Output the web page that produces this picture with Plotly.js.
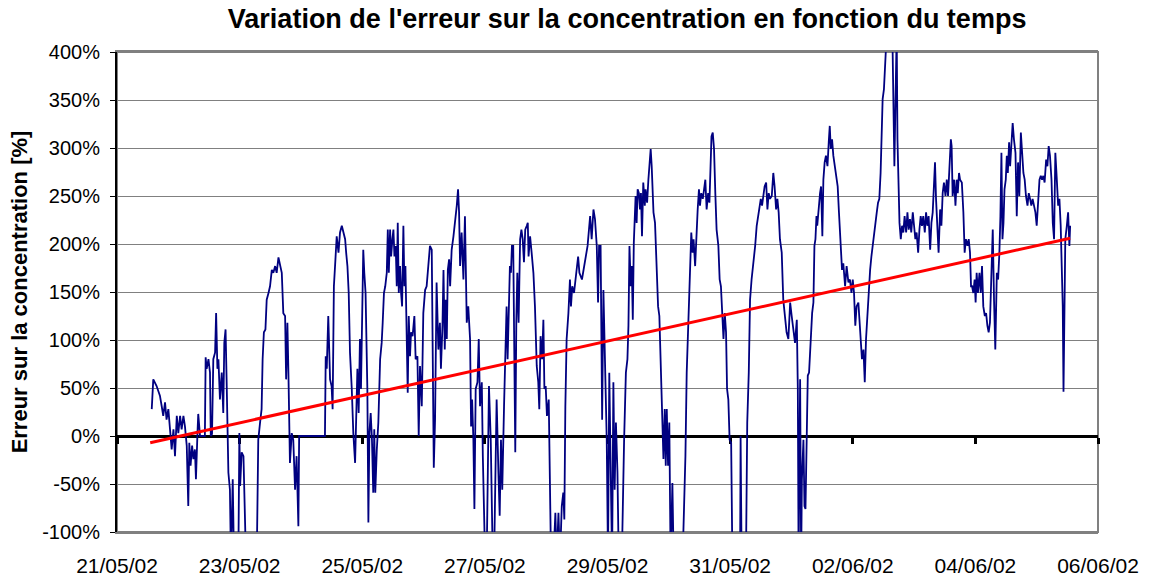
<!DOCTYPE html>
<html>
<head>
<meta charset="utf-8">
<script src="https://cdn.plot.ly/plotly-3.0.1.min.js"></script>
<style>html,body{margin:0;padding:0;background:#fff;}#chart{width:1153px;height:581px;}</style>
</head>
<body>
<div id="chart"></div>
<script>
// Temps écoulé depuis le 21/05/02 00:00 (heures)
const temps_h = [
13.6,14.2,15.5,16.8,17.5,18.1,18.8,19.4,20.1,20.7,
21.4,22.1,22.7,23.4,24.0,24.7,25.3,26.0,26.6,27.3,
27.9,28.3,28.8,29.4,29.9,30.5,30.9,31.5,31.8,32.5,
34.4,34.7,35.1,35.8,36.4,36.7,37.2,37.7,38.4,38.8,
39.3,39.7,40.3,41.0,41.6,42.0,42.5,42.9,43.6,44.2,
44.6,45.3,45.8,47.5,47.9,48.2,48.8,49.5,50.1,50.5,
54.7,55.3,56.0,56.6,57.0,57.5,58.1,58.6,59.3,59.9,
60.6,61.2,61.9,62.5,63.2,63.8,64.5,65.1,65.8,66.2,
66.7,67.1,67.7,68.4,69.0,69.7,70.3,71.0,71.3,81.4,
81.7,82.1,82.7,83.4,84.0,84.4,84.9,85.5,86.0,86.7,
87.3,88.0,88.6,89.3,89.7,90.2,90.7,91.2,91.9,92.5,
93.2,93.6,94.1,94.6,95.1,95.5,95.9,96.4,96.8,97.3,
98.0,98.4,98.8,99.3,99.8,100.3,100.7,101.1,101.7,102.3,
103.0,103.6,104.0,104.5,105.0,105.6,106.0,106.4,106.9,107.3,
107.8,108.2,108.6,109.1,109.5,109.9,110.3,110.8,111.2,111.6,
112.1,112.5,112.9,113.4,113.8,114.2,114.7,115.1,115.7,116.4,
116.9,117.6,118.1,118.6,119.3,119.9,120.6,121.2,121.9,122.5,
123.2,123.6,124.0,124.5,125.1,125.8,126.4,126.8,127.4,127.8,
128.3,128.7,129.1,129.5,130.0,130.4,131.0,131.7,132.3,133.0,
133.5,133.9,134.3,134.9,135.6,136.2,136.9,137.5,138.2,138.6,
139.0,139.5,139.9,140.4,141.1,141.6,142.1,142.8,143.2,143.7,
144.1,144.7,145.1,145.6,146.3,146.7,147.1,147.6,148.1,148.6,
149.3,149.8,150.3,150.8,151.5,152.0,152.5,152.9,153.3,153.8,
154.2,154.6,155.1,155.5,155.9,156.3,156.7,157.2,157.8,158.3,
158.8,159.3,159.8,160.4,160.8,161.1,161.7,162.3,163.0,163.6,
164.3,164.9,165.3,165.8,166.4,166.9,167.3,167.8,168.3,169.0,
169.5,169.9,170.8,171.6,172.1,172.8,173.4,174.1,174.7,175.1,
175.5,176.0,176.7,177.3,177.7,178.2,178.9,179.4,179.9,180.5,
181.0,182.0,184.2,184.6,185.2,185.8,186.5,187.1,187.8,188.3,
188.7,189.3,189.9,190.4,190.8,191.3,191.7,192.2,192.7,193.3,
193.8,194.3,194.8,195.3,195.9,196.4,197.6,198.5,199.2,199.8,
200.2,200.6,201.1,201.5,201.9,202.3,202.6,203.0,203.4,203.8,
204.3,204.7,205.1,205.5,206.0,206.6,206.9,207.5,208.0,208.4,
208.9,209.3,210.0,210.6,211.3,211.8,212.3,212.8,213.3,213.9,
214.4,214.8,215.2,215.7,216.2,216.7,217.4,217.9,221.4,221.9,
222.5,223.0,223.7,224.3,224.8,225.3,225.7,226.3,226.8,227.3,
227.8,228.2,228.7,229.3,229.8,230.3,230.8,231.4,231.9,232.3,
232.7,233.2,233.7,234.2,234.7,235.4,235.9,236.4,236.8,237.4,
237.9,238.4,238.8,239.3,239.8,240.4,240.9,243.9,244.1,244.5,
246.2,246.7,247.3,247.8,248.4,249.1,249.8,250.4,250.9,251.4,
252.0,252.5,253.0,253.5,254.1,254.6,255.1,255.6,256.3,256.9,
257.4,258.0,258.5,259.0,259.5,260.2,260.8,261.5,262.1,262.8,
263.5,264.1,264.8,265.4,266.1,266.5,266.8,267.4,267.8,268.1,
268.7,269.1,269.5,270.0,270.4,270.9,271.3,271.7,272.1,272.6,
273.0,273.4,273.8,274.1,274.7,275.2,275.6,276.1,276.5,277.0,
277.5,278.1,278.6,279.0,279.4,279.9,280.4,281.0,281.5,282.1,
282.6,283.0,283.4,283.8,284.3,285.0,285.6,286.3,286.9,287.5,
288.0,288.5,289.0,289.5,290.2,290.6,291.1,291.6,292.2,292.7,
293.2,293.7,294.3,294.8,295.3,295.8,296.3,296.9,297.4,297.9,
298.4,298.9,299.3,299.7,300.2,300.8,301.3,302.1,303.0,303.5,
303.9,304.3,304.7,305.2,305.5,305.9,306.3,306.8,307.3,307.8,
308.3,308.9,309.4,309.9,310.4,310.9,311.5,312.0,312.5,313.0,
313.6,314.1,314.6,315.1,315.6,316.2,316.7,317.2,317.7,318.3,
318.8,319.3,319.8,320.2,320.6,321.1,321.6,322.2,322.7,323.2,
323.7,324.3,324.8,325.3,325.8,326.4,326.7,327.1,327.7,328.2,
328.7,329.1,329.6,330.0,330.7,331.3,331.8,332.3,332.9,333.4,
333.9,334.3,334.7,335.2,335.7,336.1,336.5,337.0,337.6,338.1,
338.6,339.1,339.7,340.2,340.7,341.2,341.7,342.3,342.8,343.3,
343.8,344.4,344.9,345.4,345.8,346.2,346.6,347.0,347.4,347.9,
348.3,348.7,349.2,349.6,350.1,350.6,351.1,351.7,352.2,352.7,
353.2,353.8,354.3,354.8,355.3,355.8,356.4,356.9,357.4,357.9,
358.4,359.0,359.5,360.0,360.5,361.1,361.6,362.1,362.6,363.1,
363.7,364.2,364.7,365.2,365.8,366.3,366.8,367.3,367.8,368.4,
368.9,369.4,369.8,370.2,370.5,370.8,371.2,371.8,372.3,372.8,
373.1
];
// Erreur sur la concentration (%)
const erreur_pct = [
28,59,52,42,31,21,35,17,28,10,
-14,7,-21,21,3,21,7,21,10,-10,
-73,-7,-31,-10,-24,-14,-45,3,23,0,
0,82,70,80,66,0,2,80,87,128,
70,80,38,66,24,97,111,59,-38,-56,
-130,-45,-130,-130,3,-52,-17,-21,-76,-130,
-130,-4,14,28,80,108,111,142,149,156,
173,170,177,170,186,177,170,128,125,59,
118,66,-28,3,-4,-56,-21,-94,0,0,
83,70,125,59,52,28,156,184,208,191,
212,219,212,205,191,177,149,87,49,3,
-28,31,70,24,101,49,101,194,170,149,
49,-90,3,24,-4,-59,7,-59,-14,14,
80,97,118,149,156,170,215,170,215,187,
205,215,187,198,156,222,149,177,149,135,
219,156,177,121,45,125,83,108,104,125,
80,83,0,73,31,128,152,156,177,198,
194,101,-33,17,160,90,118,70,115,173,
90,142,101,173,184,156,194,208,222,240,
257,233,177,212,163,229,118,135,101,10,
38,-4,-76,49,56,101,31,56,-21,-66,
-130,-130,-21,52,-4,-52,-130,-130,-38,38,
-38,-83,-4,-56,31,80,135,80,135,177,
170,198,198,118,-17,118,170,118,205,215,
205,181,215,219,222,187,208,191,170,135,
73,56,28,104,80,121,49,52,21,38,
-28,-130,-130,-80,-130,-80,-130,-73,-59,-87,
31,101,128,163,135,156,149,163,170,187,
170,163,198,215,229,205,236,226,198,139,
198,198,17,152,101,49,-4,-130,66,-45,
-130,56,-56,14,-38,-130,-130,-4,66,80,
115,198,156,177,121,201,219,250,222,257,
253,236,253,208,264,240,257,243,267,281,
299,281,233,222,170,135,125,76,31,-24,
28,-31,28,-31,14,-130,-49,-130,-130,-80,
-21,66,118,184,212,191,205,177,212,236,
257,240,253,247,257,267,236,253,243,278,
312,316,299,253,215,198,163,156,135,101,
128,108,49,38,-4,-7,-130,-130,0,-130,
-130,14,66,142,163,180,198,219,229,236,
247,240,253,260,264,236,253,247,250,274,
260,236,247,233,205,191,142,121,108,101,
139,125,111,97,121,49,-130,59,-130,-45,
-4,-73,-76,31,63,66,87,108,128,139,
198,205,229,219,240,253,260,208,267,285,
292,281,306,323,299,309,292,281,274,260,
233,215,191,173,180,156,177,160,163,149,
163,149,115,135,139,121,101,80,90,56,
101,128,149,173,187,198,215,226,233,243,
247,274,326,351,361,385,420,430,430,420,
344,281,344,420,309,260,222,205,219,212,
229,212,233,215,226,212,233,219,205,212,
191,215,229,219,229,212,233,219,229,194,
222,233,260,285,247,222,191,236,219,253,
264,250,267,250,281,309,302,250,267,240,
267,253,274,267,264,233,191,205,198,205,
191,156,156,149,163,139,170,149,170,149,
177,135,125,128,115,108,118,163,215,142,
90,170,163,191,229,295,205,222,257,267,
292,274,306,281,312,326,309,295,229,285,
250,316,295,274,267,250,240,253,247,240,
247,240,233,219,240,267,271,267,271,264,
288,281,302,292,267,222,205,295,271,240,
247,219,177,135,46,135,205,219,233,198,
219
];
// Courbe de tendance linéaire (extrémités)
const tendance_h = [13.0, 373.1];
const tendance_pct = [-7, 206];

// Graduations de l'axe des ordonnées
const y_ticks = [-100, -50, 0, 50, 100, 150, 200, 250, 300, 350, 400];
const y_labels = ['-100%', '-50%', '0%', '50%', '100%', '150%', '200%', '250%', '300%', '350%', '400%'];

const debut = Date.UTC(2002, 4, 21);
const enDate = h => new Date(debut + h * 3600000).toISOString().slice(0, 19).replace('T', ' ');

const xRange = ['2002-05-21', '2002-06-06'];
const deuxJours = 2 * 86400000;
const fontFam = 'Liberation Sans, Arial, sans-serif';

const traces = [
  {
    type: 'scatter', mode: 'lines',
    x: temps_h.map(enDate), y: erreur_pct,
    line: {color: '#000080', width: 1.8},
    xaxis: 'x', yaxis: 'y', hoverinfo: 'skip'
  },
  {
    type: 'scatter', mode: 'lines',
    x: tendance_h.map(enDate), y: tendance_pct,
    line: {color: '#FF0000', width: 3},
    xaxis: 'x2', yaxis: 'y', hoverinfo: 'skip'
  }
];

const layout = {
  width: 1153, height: 581,
  margin: {l: 117, r: 55, t: 52, b: 49},
  paper_bgcolor: '#ffffff', plot_bgcolor: '#ffffff',
  font: {family: fontFam, color: '#000000'},
  showlegend: false,
  title: {
    text: "Variation de l'erreur sur la concentration en fonction du temps",
    font: {family: fontFam, size: 27, weight: 'bold', color: '#000'},
    x: 0.52, xref: 'paper', xanchor: 'center',
    y: 0.968, yref: 'container', yanchor: 'middle'
  },
  xaxis: {
    type: 'date', range: xRange, tick0: '2002-05-21', dtick: deuxJours,
    tickformat: '%d/%m/%y', showgrid: false, zeroline: false,
    showline: true, linecolor: '#808080', linewidth: 2, mirror: true,
    ticks: '', ticklabelstandoff: 14,
    tickfont: {family: fontFam, size: 21, color: '#000'}
  },
  xaxis2: {
    type: 'date', range: xRange, tick0: '2002-05-21', dtick: deuxJours,
    overlaying: 'x', anchor: 'free', position: 0.2, side: 'bottom',
    showticklabels: false, showgrid: false, zeroline: false,
    showline: true, linecolor: '#000000', linewidth: 3,
    ticks: 'outside', ticklen: 6, tickwidth: 3, tickcolor: '#000000',
    layer: 'below traces'
  },
  yaxis: {
    range: [-100, 400], tickmode: 'array', tickvals: y_ticks, ticktext: y_labels,
    showgrid: true, gridcolor: '#808080', gridwidth: 1,
    zeroline: false, showline: true, linecolor: '#000000', linewidth: 2,
    ticks: 'outside', ticklen: 5, tickwidth: 1, tickcolor: '#000000',
    ticklabelstandoff: 6,
    tickfont: {family: fontFam, size: 20, color: '#000'},
    title: {
      text: 'Erreur sur la concentration [%]',
      font: {family: fontFam, size: 22, weight: 'bold', color: '#000'},
      standoff: 8
    }
  },
  shapes: [{
    type: 'rect', xref: 'paper', yref: 'paper', x0: 0, x1: 1, y0: 0, y1: 1,
    line: {color: '#808080', width: 2}, layer: 'below'
  }]
};

Plotly.newPlot('chart', traces, layout, {staticPlot: true, displayModeBar: false});
</script>
</body>
</html>
